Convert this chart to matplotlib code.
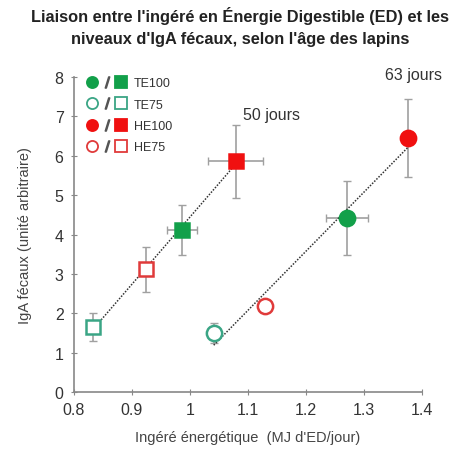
import numpy as np
import matplotlib
matplotlib.use("Agg")
import matplotlib.pyplot as plt
from matplotlib.lines import Line2D
from matplotlib.legend_handler import HandlerTuple

# ---- data ----
groups = ["TE100", "TE75", "HE100", "HE75"]
colors = {"TE100": "#12a04a", "TE75": "#3aa585", "HE100": "#f01010", "HE75": "#e03a3a"}
filled = {"TE100": True, "TE75": False, "HE100": True, "HE75": False}

# 50 jours (squares)
x50 = {"TE100": 0.986, "TE75": 0.833, "HE100": 1.079, "HE75": 0.924}
y50 = {"TE100": 4.11, "TE75": 1.65, "HE100": 5.86, "HE75": 3.12}
xerr50 = {"TE100": 0.026, "TE75": 0.005, "HE100": 0.047, "HE75": 0.005}
yerr50 = {"TE100": 0.63, "TE75": 0.35, "HE100": 0.92, "HE75": 0.57}

# 63 jours (circles)
x63 = {"TE100": 1.271, "TE75": 1.041, "HE100": 1.376, "HE75": 1.129}
y63 = {"TE100": 4.42, "TE75": 1.50, "HE100": 6.45, "HE75": 2.18}
xerr63 = {"TE100": 0.037, "TE75": 0.004, "HE100": 0.012, "HE75": 0.004}
yerr63 = {"TE100": 0.95, "TE75": 0.25, "HE100": 0.98, "HE75": 0.10}

xticks = [0.8, 0.9, 1.0, 1.1, 1.2, 1.3, 1.4]
xticklabels = ["0.8", "0.9", "1", "1.1", "1.2", "1.3", "1.4"]
yticks = [0, 1, 2, 3, 4, 5, 6, 7, 8]

plt.rcParams['font.family'] = ['Liberation Sans', 'DejaVu Sans']

fig = plt.figure(figsize=(4.58, 4.52), dpi=100)
ax = fig.add_axes([0.1616, 0.1305, 0.7594, 0.6969])

# regression lines (dotted)
for xs, ys in [(x50, y50), (x63, y63)]:
    xv = np.array([xs[g] for g in groups]); yv = np.array([ys[g] for g in groups])
    a, b = np.polyfit(xv, yv, 1)
    xl = np.array([xv.min(), xv.max()])
    ax.plot(xl, a * xl + b, ls=(0, (1, 1)), color="#333333", lw=1.1, zorder=2)

def draw(xs, ys, xe, ye, marker):
    for g in groups:
        c = colors[g]
        ax.errorbar(xs[g], ys[g], xerr=xe[g], yerr=ye[g], fmt='none',
                    ecolor="#a0a0a0", elinewidth=1.2, capsize=3, capthick=1.0, zorder=1)
        ax.plot(xs[g], ys[g], marker=marker, ms=10.5 if marker == 's' else 11,
                mfc=c if filled[g] else "white", mec=c, mew=1.8, ls='none', zorder=3)

draw(x50, y50, xerr50, yerr50, 's')
draw(x63, y63, xerr63, yerr63, 'o')

# legend
handles = []
for g in groups:
    c = colors[g]
    fc = c if filled[g] else "white"
    h1 = Line2D([], [], marker='o', ms=8, mfc=fc, mec=c, mew=1.3, ls='none')
    h2 = Line2D([], [], marker='$/$', ms=8, color="#555555", ls='none')
    h3 = Line2D([], [], marker='s', ms=8, mfc=fc, mec=c, mew=1.3, ls='none')
    handles.append((h1, h2, h3))
ax.legend(handles, groups, handler_map={tuple: HandlerTuple(ndivide=None, pad=0.0)},
          loc='upper left', bbox_to_anchor=(0.0, 1.035), frameon=False,
          fontsize=9, handlelength=3.4, handletextpad=0.5, labelspacing=0.75,
          labelcolor="#333333")

ax.text(1.141, 7.06, "50 jours", ha='center', va='center', fontsize=11.5, color="#333333")
ax.text(1.386, 8.07, "63 jours", ha='center', va='center', fontsize=11.5, color="#333333",
        clip_on=False)

ax.set_xlim(0.8, 1.4)
ax.set_ylim(0, 8)
ax.set_xticks(xticks)
ax.set_xticklabels(xticklabels)
ax.set_yticks(yticks)
for s in ['top', 'right']:
    ax.spines[s].set_visible(False)
for s in ['left', 'bottom']:
    ax.spines[s].set_color("#888888")
    ax.spines[s].set_linewidth(1.2)
ax.tick_params(direction='inout', length=5, color="#888888", labelsize=11.5,
               labelcolor="#333333", pad=5)
ax.set_xlabel("Ingéré énergétique  (MJ d'ED/jour)", fontsize=10.5, color="#444444", labelpad=9)
ax.set_ylabel("IgA fécaux (unité arbitraire)", fontsize=10.5, color="#444444", labelpad=16)

fig.text(0.525, 0.985, "Liaison entre l'ingéré en Énergie Digestible (ED) et les\nniveaux d'IgA fécaux, selon l'âge des lapins",
         ha='center', va='top', fontsize=11.8, fontweight='bold', color="#222222",
         family=['Liberation Sans Narrow', 'Liberation Sans', 'DejaVu Sans'], linespacing=1.6)

fig.savefig("out.png", dpi=100)
